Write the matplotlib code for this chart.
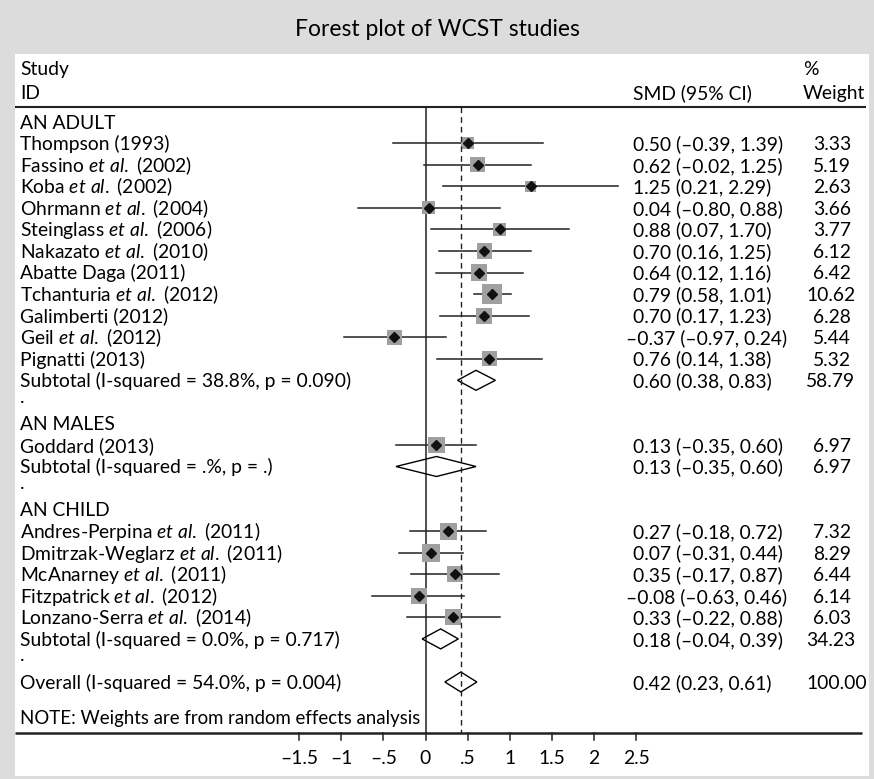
import matplotlib
matplotlib.use('Agg')
import matplotlib.pyplot as plt
from matplotlib.patches import Polygon

plt.rcParams['font.family'] = ['Lato', 'DejaVu Sans']
plt.rcParams['mathtext.fontset'] = 'custom'
plt.rcParams['mathtext.rm'] = 'Lato'
plt.rcParams['mathtext.it'] = 'Lato:italic'

# ---------------- data ----------------
title = "Forest plot of WCST studies"

adult_names = ["Thompson (1993)", "Fassino et al. (2002)", "Koba et al. (2002)",
               "Ohrmann et al. (2004)", "Steinglass et al. (2006)", "Nakazato et al. (2010)",
               "Abatte Daga (2011)", "Tchanturia et al. (2012)", "Galimberti (2012)",
               "Geil et al. (2012)", "Pignatti (2013)"]
adult_est = [0.50, 0.62, 1.25, 0.04, 0.88, 0.70, 0.64, 0.79, 0.70, -0.37, 0.76]
adult_lo = [-0.39, -0.02, 0.21, -0.80, 0.07, 0.16, 0.12, 0.58, 0.17, -0.97, 0.14]
adult_hi = [1.39, 1.25, 2.29, 0.88, 1.70, 1.25, 1.16, 1.01, 1.23, 0.24, 1.38]
adult_wt = [3.33, 5.19, 2.63, 3.66, 3.77, 6.12, 6.42, 10.62, 6.28, 5.44, 5.32]
adult_sub = ("Subtotal (I-squared = 38.8%, p = 0.090)", 0.60, 0.38, 0.83, 58.79)

males_names = ["Goddard (2013)"]
males_est = [0.13]
males_lo = [-0.35]
males_hi = [0.60]
males_wt = [6.97]
males_sub = ("Subtotal (I-squared = .%, p = .)", 0.13, -0.35, 0.60, 6.97)

child_names = ["Andres-Perpina et al. (2011)", "Dmitrzak-Weglarz et al. (2011)",
               "McAnarney et al. (2011)", "Fitzpatrick et al. (2012)",
               "Lonzano-Serra et al. (2014)"]
child_est = [0.27, 0.07, 0.35, -0.08, 0.33]
child_lo = [-0.18, -0.31, -0.17, -0.63, -0.22]
child_hi = [0.72, 0.44, 0.87, 0.46, 0.88]
child_wt = [7.32, 8.29, 6.44, 6.14, 6.03]
child_sub = ("Subtotal (I-squared = 0.0%, p = 0.717)", 0.18, -0.04, 0.39, 34.23)

overall = ("Overall (I-squared = 54.0%, p = 0.004)", 0.42, 0.23, 0.61, 100.00)

groups = [("AN ADULT", adult_names, adult_est, adult_lo, adult_hi, adult_wt, adult_sub),
          ("AN MALES", males_names, males_est, males_lo, males_hi, males_wt, males_sub),
          ("AN CHILD", child_names, child_est, child_lo, child_hi, child_wt, child_sub)]

tick_vals = [-1.5, -1, -0.5, 0, 0.5, 1, 1.5, 2, 2.5]
tick_labels = ["\u20131.5", "\u20131", "\u2013.5", "0", ".5", "1", "1.5", "2", "2.5"]
note = "NOTE: Weights are from random effects analysis"

# ---------------- layout ----------------
W, H = 874, 779
fig = plt.figure(figsize=(W / 100, H / 100), dpi=100, facecolor='#dcdcdc')
PL, PR, PT, PB = 15, 869, 54, 776
ax = fig.add_axes([PL / W, 1 - PB / H, (PR - PL) / W, (PB - PT) / H])
ax.set_facecolor('white')
for s in ax.spines.values():
    s.set_visible(False)
ax.set_xticks([])
ax.set_yticks([])
X0, PPU = 425.5, 84.2
ax.set_xlim((PL - X0) / PPU, (PR - X0) / PPU)
ax.set_ylim(PB, PT)


def px(xp):
    return (xp - X0) / PPU


FS = 13.9
Y0, DY = 121.7, 21.55
BASE = 6.9
X_LAB, X_CI, X_WT = 20, 633, 806
NEG_SHIFT, SMALL_SHIFT = 7.5, 7


def row_y(i):
    return Y0 + DY * i


def fmt(v):
    return f"{v:.2f}".replace("-", "\u2013")


def label(s):
    return s.replace("et al.", r"$\mathit{et\ al.}$")


def put_text(y, s, x=X_LAB, fs=FS):
    ax.text(px(x), y + BASE, s, ha='left', va='baseline', fontsize=fs)


def put_ci(y, est, lo, hi, wt):
    xs = X_CI - (NEG_SHIFT if est < 0 else 0)
    ax.text(px(xs), y + BASE, f"{fmt(est)} ({fmt(lo)}, {fmt(hi)})",
            ha='left', va='baseline', fontsize=FS)
    xw = X_WT + (SMALL_SHIFT if wt < 10 else 0)
    ax.text(px(xw), y + BASE, f"{wt:.2f}", ha='left', va='baseline', fontsize=FS)


def diamond(y, est, lo, hi):
    ax.add_patch(Polygon([(lo, y), (est, y - 10), (hi, y), (est, y + 10)],
                         closed=True, facecolor='none', edgecolor='black',
                         lw=1.0, zorder=4))


# header
put_text(68, "Study")
put_text(92, "ID")
put_text(92, "SMD (95% CI)", X_CI)
put_text(68, "%", 803)
put_text(92, "Weight", 803)
ax.plot([px(15), px(866)], [107, 107], color='#222222', lw=1.5, solid_capstyle='butt')

# rows
i = 0
for gname, names, est, lo, hi, wt, sub in groups:
    put_text(row_y(i), gname)
    i += 1
    for n, e, l, h, w in zip(names, est, lo, hi, wt):
        y = row_y(i)
        put_text(y, label(n))
        ax.plot([l, h], [y, y], color='#222222', lw=1.1, zorder=3)
        side_pt = (3 + 5.2 * w ** 0.5) * 0.72
        ax.scatter([e], [y], s=side_pt ** 2, marker='s', color='#a0a0a0',
                   edgecolors='none', zorder=4)
        ax.plot([e], [y], marker='D', ms=5.2, color='#111111', zorder=5, ls='none')
        put_ci(y, e, l, h, w)
        i += 1
    y = row_y(i)
    put_text(y, sub[0])
    diamond(y, sub[1], sub[2], sub[3])
    put_ci(y, sub[1], sub[2], sub[3], sub[4])
    i += 1
    put_text(row_y(i) - 6, ".")
    i += 1

y = row_y(i)
put_text(y, overall[0])
diamond(y, overall[1], overall[2], overall[3])
put_ci(y, overall[1], overall[2], overall[3], overall[4])

put_text(row_y(i + 1.65), note, fs=13.4)

# reference lines
AXY = 733
ax.plot([0, 0], [107, AXY], color='#222222', lw=1.1, zorder=2)
ax.plot([overall[1], overall[1]], [107, AXY], color='#222222', lw=1.0,
        ls=(0, (4, 3)), zorder=6)

# x axis
ax.plot([px(15), px(862)], [AXY, AXY], color='#222222', lw=1.8, solid_capstyle='butt')
for t, tl in zip(tick_vals, tick_labels):
    ax.plot([t, t], [AXY, AXY + 7], color='#222222', lw=1.1)
    ax.text(t, 758, tl, ha='center', va='center', fontsize=FS)

fig.text(437 / W, 1 - 30 / H, title, ha='center', va='center', fontsize=16.5)

fig.savefig('out.png', dpi=100, facecolor=fig.get_facecolor())
